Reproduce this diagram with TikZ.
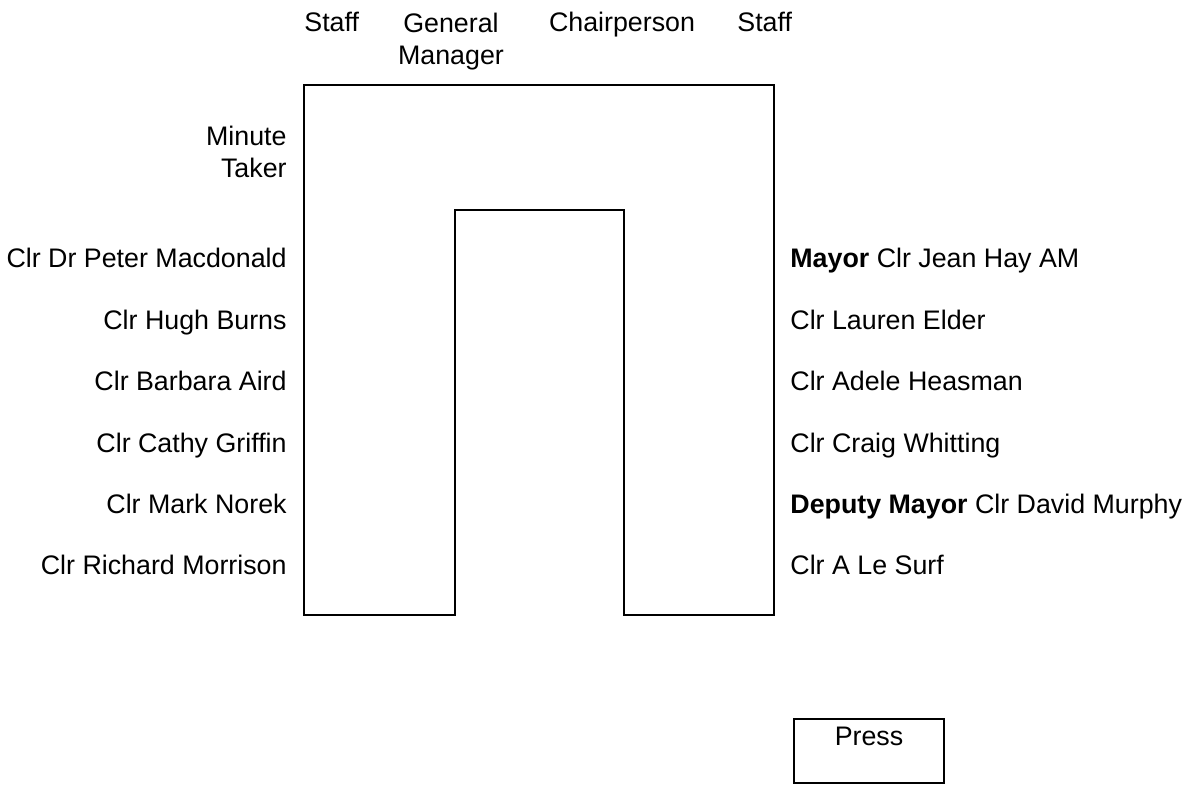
\documentclass[tikz,border=0pt]{standalone}
\usepackage{fontspec}
\setmainfont{Liberation Sans}
\tikzset{
  lbl/.style={font=\fontsize{13.4}{16}\selectfont, inner sep=0pt},
  seatL/.style={lbl, anchor=base east},
  seatR/.style={lbl, anchor=base west},
  tbl/.style={draw=black, line width=1.1pt, line join=miter},
}
\def\xL{287}
\def\xR{790}
\def\yRow{268}
\def\dRow{61.4}

\begin{document}
\begin{tikzpicture}[x=0.5pt, y=-0.5pt]
\useasboundingbox (0,0) rectangle (1191,785);

% ── the U-shaped table ───────────────────────────────────────────────────────
\draw[tbl] (304,85) -- (774,85) -- (774,615) -- (624,615) -- (624,210)
  -- (455,210) -- (455,615) -- (304,615) -- cycle;

% ── head of the table ────────────────────────────────────────────────────────
% (a two-line node sits on the baseline of its last line)
\node[lbl, anchor=base west] (staffA) at (304,32) {Staff};
\node[lbl, anchor=base, align=center] (gm) at (451,65) {General\\Manager};
\node[lbl, anchor=base] (chair) at (622,32) {Chairperson};
\node[lbl, anchor=base west] (staffB) at (737,32) {Staff};
\node[lbl, anchor=base east, align=right] (minutes) at (\xL,178) {Minute\\Taker};

% ── councillors, left side ───────────────────────────────────────────────────
\foreach \who [count=\i from 0] in {Clr Dr Peter Macdonald, Clr Hugh Burns,
    Clr Barbara Aird, Clr Cathy Griffin, Clr Mark Norek, Clr Richard Morrison}
  \node[seatL] (left\i) at (\xL, {\yRow+\i*\dRow}) {\who};

% ── councillors, right side ──────────────────────────────────────────────────
\foreach \who [count=\i from 0] in {{\textbf{Mayor} Clr Jean Hay AM}, Clr Lauren Elder,
    Clr Adele Heasman, Clr Craig Whitting, {\textbf{Deputy Mayor} Clr David Murphy},
    Clr A Le Surf}
  \node[seatR] (right\i) at (\xR, {\yRow+\i*\dRow}) {\who};

% ── press ────────────────────────────────────────────────────────────────────
\draw[tbl] (794,719) rectangle (944,783);
\node[lbl, anchor=base] (press) at (869,746) {Press};

\end{tikzpicture}
\end{document}
